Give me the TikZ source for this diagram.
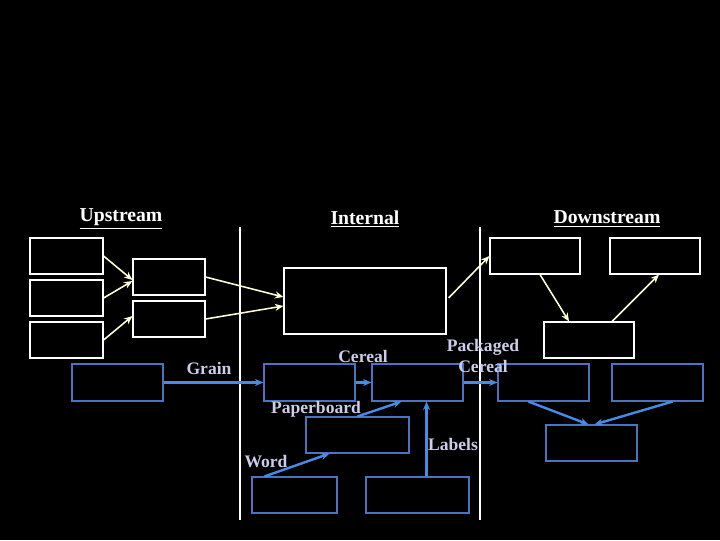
\documentclass[tikz,border=0pt]{standalone}
\usepackage{fontspec}
\setmainfont{Liberation Serif}
\usepackage{tikz}
\usetikzlibrary{arrows.meta,calc}

\definecolor{cream}{RGB}{255,255,215}
\definecolor{boxblue}{RGB}{75,115,195}
\definecolor{arrowblue}{RGB}{70,140,230}
\definecolor{lavender}{RGB}{205,205,235}

\begin{document}
\begin{tikzpicture}[x=0.025cm,y=-0.025cm,>={Stealth[length=6pt,width=5pt]},
 wbox/.style={draw=white,line width=0.8pt,minimum width=1.825cm,minimum height=0.9cm,inner sep=0pt},
 bbox/.style={draw=boxblue,line width=0.8pt,minimum width=2.275cm,minimum height=0.925cm,inner sep=0pt},
 title/.style={text=white,font=\fontsize{14}{16}\selectfont\bfseries},
 flow/.style={text=lavender,align=center,font=\fontsize{12.5}{15.5}\selectfont\bfseries},
 warrow/.style={->,draw=cream,line width=1.1pt},
 barrow/.style={->,draw=arrowblue,line width=1.7pt}]
\fill[black] (0,0) rectangle (720,540);
% titles
\node[title] (up) at (121,219) {\underline{Upstream}};
\node[title] (in) at (365,219) {\underline{Internal}};
\node[title] (down) at (607,219) {\underline{Downstream}};
\draw[white,line width=0.8pt] (240,227) -- (240,520);
\draw[white,line width=0.8pt] (480,227) -- (480,520);
% white boxes
\node[wbox] (u1) at (66.5,256) {};
\node[wbox] (u2) at (66.5,298) {};
\node[wbox] (u3) at (66.5,340) {};
\node[wbox,minimum width=1.8cm] (m1) at (169,277) {};
\node[wbox,minimum width=1.8cm] (m2) at (169,319) {};
\node[wbox,minimum width=4.05cm,minimum height=1.65cm] (firm) at (365,301) {};
\node[wbox,minimum width=2.25cm] (dA) at (535,256) {};
\node[wbox,minimum width=2.25cm] (dB) at (655,256) {};
\node[wbox,minimum width=2.25cm] (dC) at (589,340) {};
\draw[warrow] (u1.east) -- ($(m1.west)+(0,3)$);
\draw[warrow] (u2.east) -- ($(m1.west)+(0,4)$);
\draw[warrow] (u3.east) -- ($(m2.west)+(0,-3)$);
\draw[warrow] (m1.east) -- ($(firm.west)+(0,-4)$);
\draw[warrow] (m2.east) -- ($(firm.west)+(0,5)$);
\draw[warrow] ($(firm.east)+(2,-3)$) -- (dA.west);
\draw[warrow] ($(dA.south)+(5,0)$) -- ($(dC.north)+(-20,0)$);
\draw[warrow] ($(dC.north)+(23,0)$) -- ($(dB.south)+(4,0)$);
% blue boxes
\node[bbox] (grainsrc) at (117.5,382.5) {};
\node[bbox] (maker) at (309.5,382.5) {};
\node[bbox] (pack) at (417.5,382.5) {};
\node[bbox] (bd1) at (543.5,382.5) {};
\node[bbox] (bd2) at (657.5,382.5) {};
\node[bbox,minimum height=0.9cm] (bd3) at (591.5,443) {};
\node[bbox,minimum width=2.575cm,minimum height=0.9cm] (paper) at (357.5,435) {};
\node[bbox,minimum width=2.125cm,minimum height=0.9cm] (word) at (294.5,495) {};
\node[bbox,minimum width=2.575cm,minimum height=0.9cm] (labelsrc) at (417.5,495) {};
\draw[barrow] (grainsrc.east) -- (maker.west);
\draw[barrow] (maker.east) -- (pack.west);
\draw[barrow] (pack.east) -- (bd1.west);
\draw[barrow] (paper.north) -- ($(pack.south)+(-16,0)$);
\draw[barrow] ($(word.north)+(-30,0)$) -- ($(paper.south)+(-28,0)$);
\draw[barrow] ($(labelsrc.north)+(9,0)$) -- ($(pack.south)+(9,0)$);
\draw[barrow] ($(bd1.south)+(-15,0)$) -- ($(bd3.north)+(-3,0)$);
\draw[barrow] ($(bd2.south)+(15,0)$) -- ($(bd3.north)+(3,0)$);
% flow labels
\node[flow] (grain) at (209,368) {Grain};
\node[flow] (cereal) at (363,356) {Cereal};
\node[flow] (packaged) at (483,356) {Packaged\\Cereal};
\node[flow] (paperboard) at (316,409) {Paperboard};
\node[flow] (wordlbl) at (266,462) {Word};
\node[flow] (labels) at (453,444) {Labels};
\end{tikzpicture}
\end{document}
